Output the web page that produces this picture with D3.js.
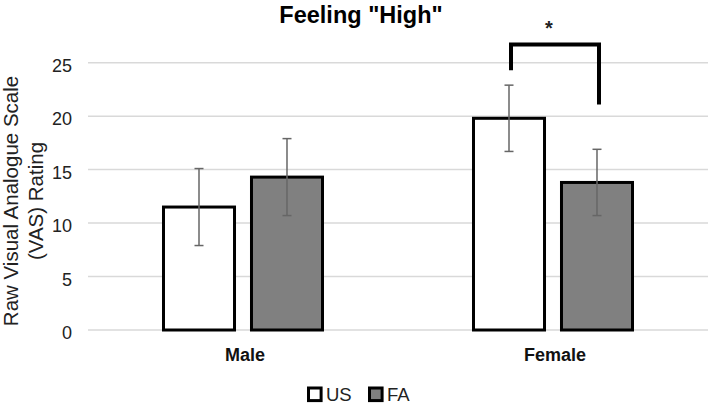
<!DOCTYPE html>
<html><head><meta charset="utf-8">
<script src="https://cdn.jsdelivr.net/npm/d3@7"></script>
<style>body{margin:0;background:#fff}svg{display:block;font-family:"Liberation Sans",Arial,sans-serif}</style>
</head><body><svg id="c" width="710" height="405"></svg>
<script>
const categories = ["Male", "Female"];
const series = ["US", "FA"];
const usValues = [11.5, 19.8];
const faValues = [14.3, 13.8];
const usErrors = [3.6, 3.1];
const faErrors = [3.6, 3.1];
const yTicks = [0, 5, 10, 15, 20, 25];
const sigCategory = "Female";
const sigBracket = [24.3, 26.7, 21.1]; // left end, top, right end (value units)
const sigLabel = "*";
const colors = {US: "#ffffff", FA: "#808080"};

const svg = d3.select("#c");
const x0 = d3.scaleBand().domain(categories).range([88, 708]);
const x1 = d3.scaleBand().domain(series).range([0, x0.bandwidth()]).paddingInner(0.193).paddingOuter(0.858);
const y = d3.scaleLinear().domain([0, 25]).range([330, 62.7]);

// gridlines
svg.append("g").selectAll("line").data(yTicks).join("line")
  .attr("x1", 88).attr("x2", 708).attr("y1", d => y(d)).attr("y2", d => y(d))
  .attr("stroke", "#d9d9d9").attr("stroke-width", 1.5);

// y axis labels
const yAxis = svg.append("g").attr("transform", "translate(81,3)")
  .call(d3.axisLeft(y).tickValues(yTicks).tickSize(0).tickPadding(9));
yAxis.select(".domain").remove();
yAxis.selectAll("text").attr("font-size", 18).attr("fill", "#222").attr("font-family", "Liberation Sans, Arial, sans-serif");

// x axis labels
const xAxis = svg.append("g").attr("transform", "translate(2,336)")
  .call(d3.axisBottom(x0).tickSize(0).tickPadding(12));
xAxis.select(".domain").remove();
xAxis.selectAll("text").attr("font-size", 18).attr("font-weight", "bold").attr("fill", "#111").attr("font-family", "Liberation Sans, Arial, sans-serif");

const data = [];
categories.forEach((c, i) => {
  data.push({cat: c, s: "US", v: usValues[i], e: usErrors[i]});
  data.push({cat: c, s: "FA", v: faValues[i], e: faErrors[i]});
});

// bars
svg.append("g").selectAll("rect").data(data).join("rect")
  .attr("x", d => x0(d.cat) + x1(d.s))
  .attr("y", d => y(d.v))
  .attr("width", x1.bandwidth())
  .attr("height", d => y(0) - y(d.v))
  .attr("fill", d => colors[d.s]).attr("stroke", "#000").attr("stroke-width", 3);

// error bars
const eg = svg.append("g").attr("stroke", "#666").attr("stroke-width", 1.5);
data.forEach(d => {
  const cx = x0(d.cat) + x1(d.s) + x1.bandwidth() / 2;
  eg.append("line").attr("x1", cx).attr("x2", cx).attr("y1", y(d.v + d.e)).attr("y2", y(d.v - d.e));
  [d.v + d.e, d.v - d.e].forEach(t => eg.append("line").attr("x1", cx - 4.5).attr("x2", cx + 4.5).attr("y1", y(t)).attr("y2", y(t)));
});

// significance bracket
const lx = x0(sigCategory) + x1("US") + x1.bandwidth() / 2 + 2;
const rx = x0(sigCategory) + x1("FA") + x1.bandwidth() / 2 + 2;
svg.append("path")
  .attr("d", `M${lx},${y(sigBracket[0])}V${y(sigBracket[1])}H${rx}V${y(sigBracket[2])}`)
  .attr("fill", "none").attr("stroke", "#000").attr("stroke-width", 4);
svg.append("text").attr("x", (lx + rx) / 2 - 6).attr("y", 35).attr("text-anchor", "middle")
  .attr("font-size", 20).attr("font-weight", "bold").attr("fill", "#222").text(sigLabel);

// title
svg.append("text").attr("x", 361).attr("y", 23).attr("text-anchor", "middle")
  .attr("font-size", 23.5).attr("font-weight", "bold").attr("fill", "#000").text('Feeling "High"');

// y axis title
const yt = svg.append("text").attr("transform", "translate(0,201) rotate(-90)")
  .attr("text-anchor", "middle").attr("font-size", 20.5).attr("fill", "#222");
yt.append("tspan").attr("x", 0).attr("y", 18).text("Raw Visual Analogue Scale");
yt.append("tspan").attr("x", 0).attr("y", 43).text("(VAS) Rating");

// legend
const legX = [307, 368];
const lg = svg.append("g");
series.forEach((s, i) => {
  lg.append("rect").attr("x", legX[i] + 1.5).attr("y", 388).attr("width", 12.6).attr("height", 12.6)
    .attr("fill", colors[s]).attr("stroke", "#000").attr("stroke-width", 3);
  lg.append("text").attr("x", legX[i] + 19).attr("y", 401).attr("font-size", 18.5).attr("fill", "#222").text(s);
});
</script></body></html>
